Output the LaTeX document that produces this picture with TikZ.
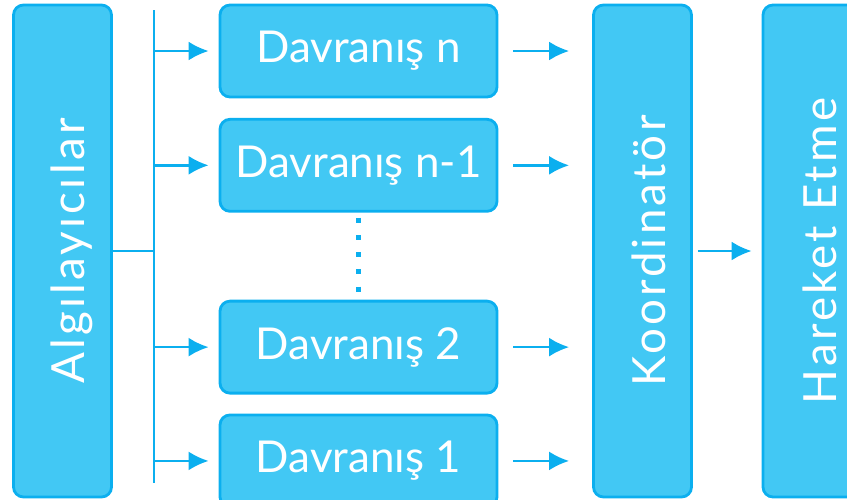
\documentclass[tikz,border=0pt]{standalone}
\usepackage{fontspec}
\setmainfont{Lato}
\usepackage{tikz}
\usetikzlibrary{positioning,calc,arrows.meta}
\definecolor{boxfill}{HTML}{42C8F4}
\definecolor{boxline}{HTML}{0BAFEF}

\begin{document}
\begin{tikzpicture}[node distance=0.39cm,
    beh block/.style={rectangle, draw=boxline, line width=1.6pt, rounded corners=0.2cm,
        fill=boxfill, text=white, minimum width=5.54cm, minimum height=1.84cm,
        font=\fontsize{25}{30}\selectfont},
    tall block/.style={rectangle, draw=boxline, line width=1.6pt, rounded corners=0.2cm,
        fill=boxfill, text=white, minimum width=9.84cm, minimum height=1.96cm,
        rotate=90, text height=0.9cm, text depth=0pt,
        font=\fontsize{26}{30}\selectfont\addfontfeature{LetterSpace=7}},
    beh arrow/.style={-{Latex[length=0.4cm,width=0.38cm]}, line width=1.4pt, draw=boxline}]

    \useasboundingbox (0,0) rectangle (16.94,-9.98);

    \node [tall block] (sens) at (1.25,-5.02) {Algılayıcılar};
    \node [tall block] (coord) at (12.85,-5.02) {Koordinatör};
    \node [tall block, minimum height=2.04cm] (act) at (16.28,-5.02) {Hareket Etme};

    \node [beh block] (bn) at (7.17,-1.02) {Davranış n};
    \node [beh block, below=of bn] (bnm) {Davranış n-1};
    \node [beh block, below=1.74cm of bnm] (btwo) {Davranış 2};
    \node [beh block, below=0.38cm of btwo] (bone) {Davranış 1};

    % bus from the sensors
    \coordinate (bustop) at (3.08,-0.2);
    \coordinate (busbot) at (3.08,-9.66);
    \draw [boxline, line width=1.2pt] (bustop) -- (busbot);
    \draw [boxline, line width=1.4pt] (sens.south) -- (sens.south -| bustop);

    \foreach \b in {bn,bnm,btwo,bone} {
        \draw [beh arrow, shorten >=0.2cm] (\b.west -| bustop) -- (\b.west);
        \draw [beh arrow, shorten <=0.3cm, shorten >=0.46cm] (\b.east) -- (\b.east -| coord.north);
    }
    \draw [beh arrow, shorten <=0.1cm, shorten >=0.2cm] (coord.south) -- (act.north);

    \draw [boxline, line width=2.8pt, dash pattern=on 2.8pt off 7pt,
        shorten <=0.1cm, shorten >=0.14cm] (bnm.south) -- (btwo.north);
\end{tikzpicture}
\end{document}
